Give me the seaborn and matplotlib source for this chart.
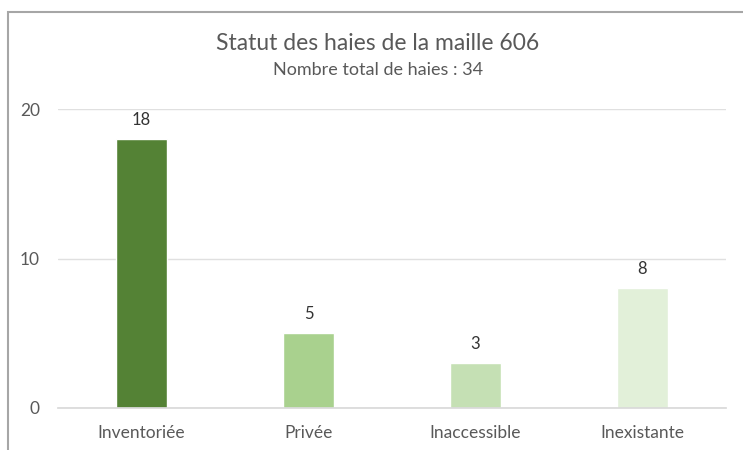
import matplotlib
matplotlib.use("Agg")
import matplotlib.pyplot as plt
import seaborn as sns
import pandas as pd
from matplotlib.patches import Rectangle

categories = ["Inventoriée", "Privée", "Inaccessible", "Inexistante"]
counts = [18, 5, 3, 8]
colors = ["#548235", "#A9D18E", "#C5E0B4", "#E2F0D9"]
title = "Statut des haies de la maille 606"
subtitle = "Nombre total de haies : 34"
yticks = [0, 10, 20]

sns.set_theme(style="white")
plt.rcParams["font.family"] = ["Lato", "DejaVu Sans"]

df = pd.DataFrame({"statut": categories, "n": counts})

W, H = 743, 450
fig = plt.figure(figsize=(W / 100, H / 100), dpi=100)
ax = fig.add_axes([58 / W, 1 - 408 / H, (726 - 58) / W, (408 - 109) / H])

sns.barplot(data=df, x="statut", y="n", hue="statut", palette=colors,
            width=0.31, legend=False, ax=ax, saturation=1)

ax.set_ylim(0, 20)
ax.set_xlim(-0.5, len(categories) - 0.5)
ax.set_yticks(yticks)
ax.yaxis.grid(True, color="#E0E0E0", linewidth=1)
ax.set_axisbelow(True)
for s in ["top", "right", "left"]:
    ax.spines[s].set_visible(False)
ax.spines["bottom"].set_color("#D9D9D9")
ax.set_xlabel("")
ax.set_ylabel("")
ax.tick_params(axis="both", length=0, labelsize=12.5, colors="#595959")
ax.tick_params(axis="x", pad=12)
ax.tick_params(axis="y", pad=13)

for i, v in enumerate(counts):
    ax.annotate(str(v), (i, v), xytext=(0, 8), textcoords="offset points",
                ha="center", va="bottom", fontsize=12, color="#333333")

fig.text(378 / W, 1 - 43 / H, title, ha="center", va="center",
         fontsize=16.5, color="#595959")
fig.text(378 / W, 1 - 70 / H, subtitle, ha="center", va="center",
         fontsize=13, color="#595959")

# chart frame
fig.patches.append(Rectangle((8 / W, -0.1), 1.2, 1 - 12 / H + 0.1,
                             transform=fig.transFigure, fill=False,
                             edgecolor="#A6A6A6", linewidth=1.5))

fig.savefig("out.png", dpi=100)
